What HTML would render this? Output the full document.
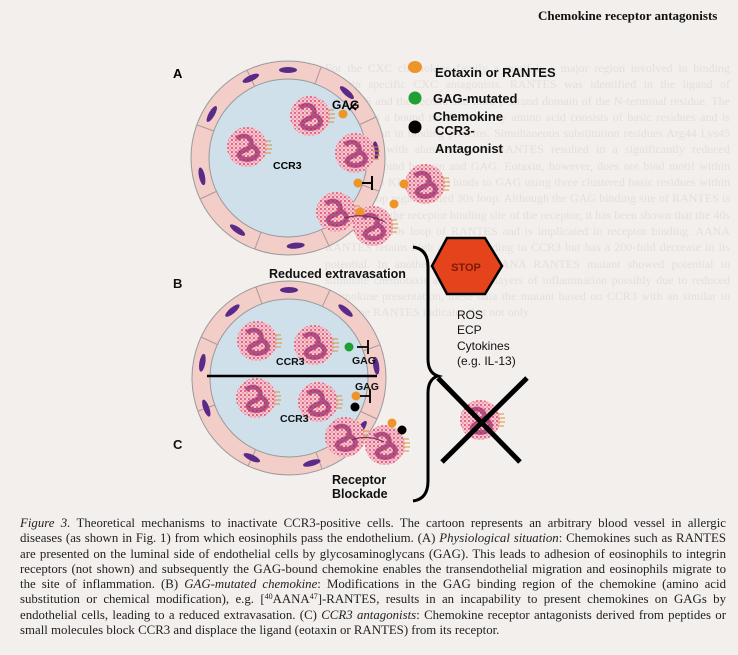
<!DOCTYPE html>
<html><head><meta charset="utf-8">
<style>
html,body{margin:0;padding:0;background:#f2efed;}
#w{position:relative;width:738px;height:655px;overflow:hidden;background:#f2efed;}
.hdr{position:absolute;left:538px;top:8px;font:bold 13px "Liberation Serif",serif;color:#111;}
.cap{position:absolute;left:20px;top:516px;width:706px;font:12.85px/15.3px "Liberation Serif",serif;color:#222;}
.cap div{text-align:justify;text-align-last:justify;white-space:nowrap;height:15.3px;}
.cap div.l{text-align-last:left;}
.cap sup{font-size:8px;line-height:0;vertical-align:4px;}
.ghost{position:absolute;font:12px/16.3px "Liberation Serif",serif;color:#e4dfdc;text-align:justify;}
</style></head><body><div id="w">
<div class="ghost" style="left:325px;top:60px;width:405px;">For the CXC chemokine family a motif is a major region involved in binding heparin specific CXC antagonists. RANTES was identified in the ligand of RANTES and the second and third β strand domain of the N-terminal residue. The 40s loop is a bound residue and any amino acid consists of basic residues and is also common in binding proteins. Simultaneous substitution residues Arg44 Lys45 and Arg47 with alanine AANA RANTES resulted in a significantly reduced capacity to bind heparin and GAG. Eotaxin, however, does not bind motif within the 40s loop KRGRE and binds to GAG using three clustered basic residues within the next loop region called 30s loop. Although the GAG binding site of RANTES is distinct from the receptor binding site of the receptor, it has been shown that the 40s motif is the 40s loop of RANTES and is implicated in receptor binding. AANA RANTES retains high affinity binding to CCR3 but has a 200-fold decrease in its potential. In another study the AANA RANTES mutant showed potential to stimulate chemotaxis across monolayers of inflammation possibly due to reduced chemokine presentation, these data the mutant based on CCR3 with an similar to wild type RANTES indicates that not only</div>
<div class="hdr">Chemokine receptor antagonists</div>
<svg width="738" height="516" style="position:absolute;left:0;top:0" xmlns="http://www.w3.org/2000/svg">
<defs>
<pattern id="dots" width="4" height="4" patternUnits="userSpaceOnUse">
<rect width="4" height="4" fill="#f7c9d2"/>
<circle cx="1" cy="1" r="1.1" fill="#e0607e"/><circle cx="3" cy="3" r="0.9" fill="#ea8aa0"/>
</pattern>
<g id="cell">
<circle r="20" fill="url(#dots)"/>
<path d="M-10,-8 C-4,-14 6,-10 4,-2 C2,4 -6,2 -8,8 C-6,14 6,14 10,8 C12,2 6,0 4,-2" fill="none" stroke="#9c2f6e" stroke-width="5" opacity="0.75"/>
<g stroke="#d99040" stroke-width="1" fill="none"><path d="M18,-6 h6 M18,-2 h7 M18,2 h7 M18,6 h6"/></g>
</g>
<g id="wallA">
<circle r="88" fill="none" stroke="#9a9a9a" stroke-width="19"/>
<circle r="88" fill="none" stroke="#f3cdc8" stroke-width="17"/>
</g>
</defs>

<g transform="translate(288,158)">
<circle r="80" fill="#cfe0ea"/>
<use href="#wallA"/>
<g stroke="#a89a98" stroke-width="1">
<line x1="0" y1="-79" x2="0" y2="-97" transform="rotate(20)"/><line x1="0" y1="-79" x2="0" y2="-97" transform="rotate(65)"/><line x1="0" y1="-79" x2="0" y2="-97" transform="rotate(110)"/><line x1="0" y1="-79" x2="0" y2="-97" transform="rotate(155)"/><line x1="0" y1="-79" x2="0" y2="-97" transform="rotate(200)"/><line x1="0" y1="-79" x2="0" y2="-97" transform="rotate(245)"/><line x1="0" y1="-79" x2="0" y2="-97" transform="rotate(290)"/><line x1="0" y1="-79" x2="0" y2="-97" transform="rotate(335)"/>
</g>
<g fill="#5a2a88">
<ellipse cx="0" cy="-88" rx="9" ry="3"/><ellipse cx="0" cy="-88" rx="9" ry="3" transform="rotate(42)"/><ellipse cx="0" cy="-88" rx="9" ry="3" transform="rotate(85)"/><ellipse cx="0" cy="-88" rx="9" ry="3" transform="rotate(130)"/><ellipse cx="0" cy="-88" rx="9" ry="3" transform="rotate(175)"/><ellipse cx="0" cy="-88" rx="9" ry="3" transform="rotate(215)"/><ellipse cx="0" cy="-88" rx="9" ry="3" transform="rotate(258)"/><ellipse cx="0" cy="-88" rx="9" ry="3" transform="rotate(300)"/><ellipse cx="0" cy="-88" rx="9" ry="3" transform="rotate(335)"/>
</g>
</g>
<use href="#cell" x="247" y="147"/>
<use href="#cell" x="310" y="116"/>
<use href="#cell" x="355" y="153"/>
<circle cx="343" cy="114" r="4.5" fill="#ee9428"/>
<path d="M349,110 l7,-7 M352,106 l4,4" stroke="#000" stroke-width="1.6"/>
<text x="332" y="109" font-family="Liberation Sans,sans-serif" font-size="12" font-weight="bold">GAG</text>
<text x="273" y="169" font-family="Liberation Sans,sans-serif" font-size="10.5" font-weight="bold">CCR3</text>
<circle cx="358" cy="183" r="4.5" fill="#ee9428"/>
<path d="M362,183 h10 M372,176 v14" stroke="#000" stroke-width="2"/>
<use href="#cell" x="425" y="184"/>
<circle cx="404" cy="184" r="4.5" fill="#ee9428"/>
<use href="#cell" x="336" y="212"/>
<use href="#cell" x="373" y="226"/>
<circle cx="360" cy="212" r="4.5" fill="#ee9428"/>
<circle cx="394" cy="204" r="4.5" fill="#ee9428"/>
<path d="M345,218 q20,-6 40,4" stroke="#7a2a60" stroke-width="1.2" fill="none"/>
<text x="173" y="78" font-family="Liberation Sans,sans-serif" font-size="13" font-weight="bold">A</text>

<g font-family="Liberation Sans,sans-serif" font-size="13" font-weight="bold" fill="#111">
<ellipse cx="415" cy="67" rx="7" ry="6" fill="#ee9428"/><text x="435" y="77">Eotaxin or RANTES</text>
<circle cx="415" cy="98" r="6.5" fill="#1fa032"/><text x="433" y="103">GAG-mutated</text><text x="433" y="121">Chemokine</text>
<circle cx="415" cy="127" r="6.5" fill="#000"/><text x="435" y="135">CCR3-</text><text x="435" y="153">Antagonist</text>
</g>

<g transform="translate(289,378)">
<circle r="80" fill="#cfe0ea"/>
<use href="#wallA"/>
<g stroke="#a89a98" stroke-width="1">
<line x1="0" y1="-79" x2="0" y2="-97" transform="rotate(25)"/><line x1="0" y1="-79" x2="0" y2="-97" transform="rotate(70)"/><line x1="0" y1="-79" x2="0" y2="-97" transform="rotate(115)"/><line x1="0" y1="-79" x2="0" y2="-97" transform="rotate(160)"/><line x1="0" y1="-79" x2="0" y2="-97" transform="rotate(205)"/><line x1="0" y1="-79" x2="0" y2="-97" transform="rotate(250)"/><line x1="0" y1="-79" x2="0" y2="-97" transform="rotate(295)"/><line x1="0" y1="-79" x2="0" y2="-97" transform="rotate(340)"/>
</g>
<g fill="#5a2a88">
<ellipse cx="0" cy="-88" rx="9" ry="3"/><ellipse cx="0" cy="-88" rx="9" ry="3" transform="rotate(40)"/><ellipse cx="0" cy="-88" rx="9" ry="3" transform="rotate(82)"/><ellipse cx="0" cy="-88" rx="9" ry="3" transform="rotate(125)"/><ellipse cx="0" cy="-88" rx="9" ry="3" transform="rotate(165)"/><ellipse cx="0" cy="-88" rx="9" ry="3" transform="rotate(205)"/><ellipse cx="0" cy="-88" rx="9" ry="3" transform="rotate(250)"/><ellipse cx="0" cy="-88" rx="9" ry="3" transform="rotate(280)"/><ellipse cx="0" cy="-88" rx="9" ry="3" transform="rotate(320)"/>
</g>
<line x1="-82" y1="-2" x2="88" y2="-2" stroke="#000" stroke-width="2.5"/>
</g>
<use href="#cell" x="257" y="341"/>
<use href="#cell" x="314" y="345"/>
<use href="#cell" x="256" y="398"/>
<use href="#cell" x="318" y="402"/>
<circle cx="349" cy="347" r="4.5" fill="#1fa032"/>
<path d="M357,347 h11 M368,340 v14" stroke="#000" stroke-width="1.8"/>
<circle cx="356" cy="396" r="4.5" fill="#ee9428"/>
<circle cx="355" cy="407" r="4.5" fill="#000"/>
<path d="M360,396 h10 M370,389 v14" stroke="#000" stroke-width="1.8"/>
<use href="#cell" x="345" y="437"/>
<use href="#cell" x="385" y="445"/>
<circle cx="392" cy="423" r="4.5" fill="#ee9428"/>
<circle cx="402" cy="430" r="4.5" fill="#000"/>
<path d="M352,440 q15,-6 32,2" stroke="#7a2a60" stroke-width="1.2" fill="none"/>
<g font-family="Liberation Sans,sans-serif" font-weight="bold" fill="#111">
<text x="269" y="278" font-size="12.5">Reduced extravasation</text>
<text x="173" y="288" font-size="13">B</text>
<text x="173" y="449" font-size="13">C</text>
<text x="276" y="365" font-size="10.5">CCR3</text>
<text x="352" y="364" font-size="10.5">GAG</text>
<text x="355" y="390" font-size="10.5">GAG</text>
<text x="280" y="422" font-size="10.5">CCR3</text>
<text x="332" y="484" font-size="12.5">Receptor</text>
<text x="332" y="498" font-size="12.5">Blockade</text>
</g>

<path d="M413,247 q15,2 15,20 v92 q0,14 10,17 q-10,3 -10,17 v88 q0,18 -15,20" fill="none" stroke="#000" stroke-width="3"/>

<polygon points="447,238 485,238 502,266 485,294 447,294 432,266" fill="#e5431c" stroke="#000" stroke-width="2.5"/>
<text x="466" y="271" text-anchor="middle" font-family="Liberation Sans,sans-serif" font-size="11" font-weight="bold" fill="#7a1a08">STOP</text>
<g font-family="Liberation Sans,sans-serif" font-size="12" fill="#111">
<text x="457" y="319">ROS</text><text x="457" y="334">ECP</text><text x="457" y="350">Cytokines</text><text x="457" y="365">(e.g. IL-13)</text>
</g>
<use href="#cell" x="480" y="420"/>
<path d="M438,378 L520,462 M527,378 L442,462" stroke="#000" stroke-width="5"/>
</svg>
<div class="cap">
<div><i>Figure 3.</i> Theoretical mechanisms to inactivate CCR3-positive cells. The cartoon represents an arbitrary blood vessel in allergic</div>
<div>diseases (as shown in Fig. 1) from which eosinophils pass the endothelium. (A) <i>Physiological situation</i>: Chemokines such as RANTES</div>
<div>are presented on the luminal side of endothelial cells by glycosaminoglycans (GAG). This leads to adhesion of eosinophils to integrin</div>
<div>receptors (not shown) and subsequently the GAG-bound chemokine enables the transendothelial migration and eosinophils migrate to</div>
<div>the site of inflammation. (B) <i>GAG-mutated chemokine</i>: Modifications in the GAG binding region of the chemokine (amino acid</div>
<div>substitution or chemical modification), e.g. [<sup>40</sup>AANA<sup>47</sup>]-RANTES, results in an incapability to present chemokines on GAGs by</div>
<div>endothelial cells, leading to a reduced extravasation. (C) <i>CCR3 antagonists</i>: Chemokine receptor antagonists derived from peptides or</div>
<div class="l">small molecules block CCR3 and displace the ligand (eotaxin or RANTES) from its receptor.</div>
</div>
</div></body></html>
